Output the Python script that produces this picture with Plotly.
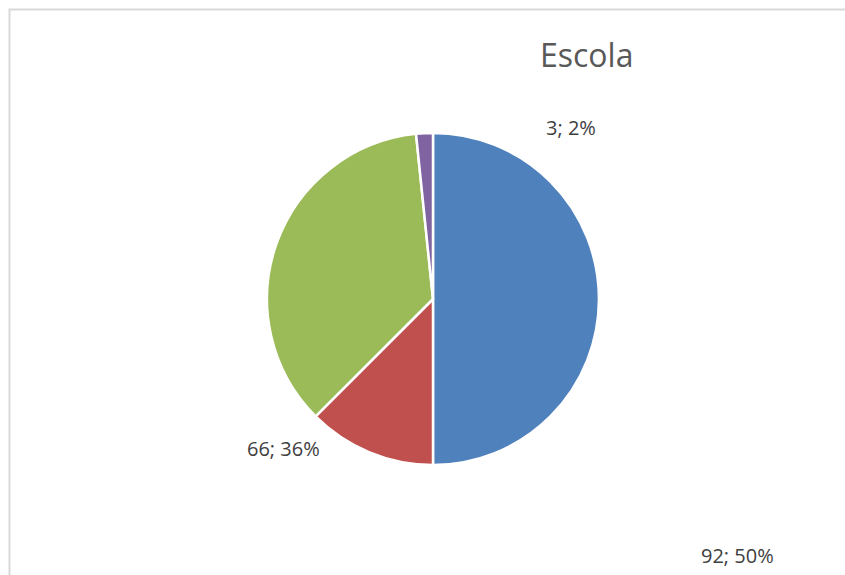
import plotly.graph_objects as go

categories = ["A", "B", "C", "D"]
values = [92, 23, 66, 3]
colors = ["#4F81BD", "#C0504D", "#9BBB59", "#8064A2"]
title_text = "Escola"

W, H = 845, 575
total = sum(values)
cx, cy, r = 433, 299, 166

fig = go.Figure()
fig.add_trace(go.Pie(
    labels=categories, values=values, sort=False, direction="clockwise",
    rotation=0, marker=dict(colors=colors, line=dict(color="white", width=2.5)),
    textinfo="none", hoverinfo="label+value+percent", showlegend=False,
    domain=dict(x=[(cx - r) / W, (cx + r) / W], y=[1 - (cy + r) / H, 1 - (cy - r) / H]),
))

# data labels (Excel-style "value; percent"), the red one is not shown in the original
label_pos = {0: (737, 555), 2: (283, 448), 3: (571, 128)}
for i, (px, py) in label_pos.items():
    pct = round(values[i] / total * 100)
    fig.add_annotation(x=px / W, y=1 - py / H, xref="paper", yref="paper",
                       xanchor="center", yanchor="middle",
                       text=f"{values[i]}; {pct}%", showarrow=False,
                       font=dict(family="Open Sans", size=20, color="#404040"))

fig.add_annotation(x=586 / W, y=1 - 54 / H, xref="paper", yref="paper",
                   xanchor="center", yanchor="middle",
                   text=title_text, showarrow=False,
                   font=dict(family="Open Sans", size=32, color="#595959"))

fig.add_shape(type="rect", xref="paper", yref="paper",
              x0=9.5 / W, x1=1.2, y0=-0.2, y1=1 - 9.5 / H,
              line=dict(color="#D9D9D9", width=2))

fig.update_layout(width=W, height=H, margin=dict(l=0, r=0, t=0, b=0),
                  paper_bgcolor="white", plot_bgcolor="white")
fig.write_html("out.html", config={"displayModeBar": False},
               post_script="document.body.style.margin='0';document.body.style.overflow='hidden';")
